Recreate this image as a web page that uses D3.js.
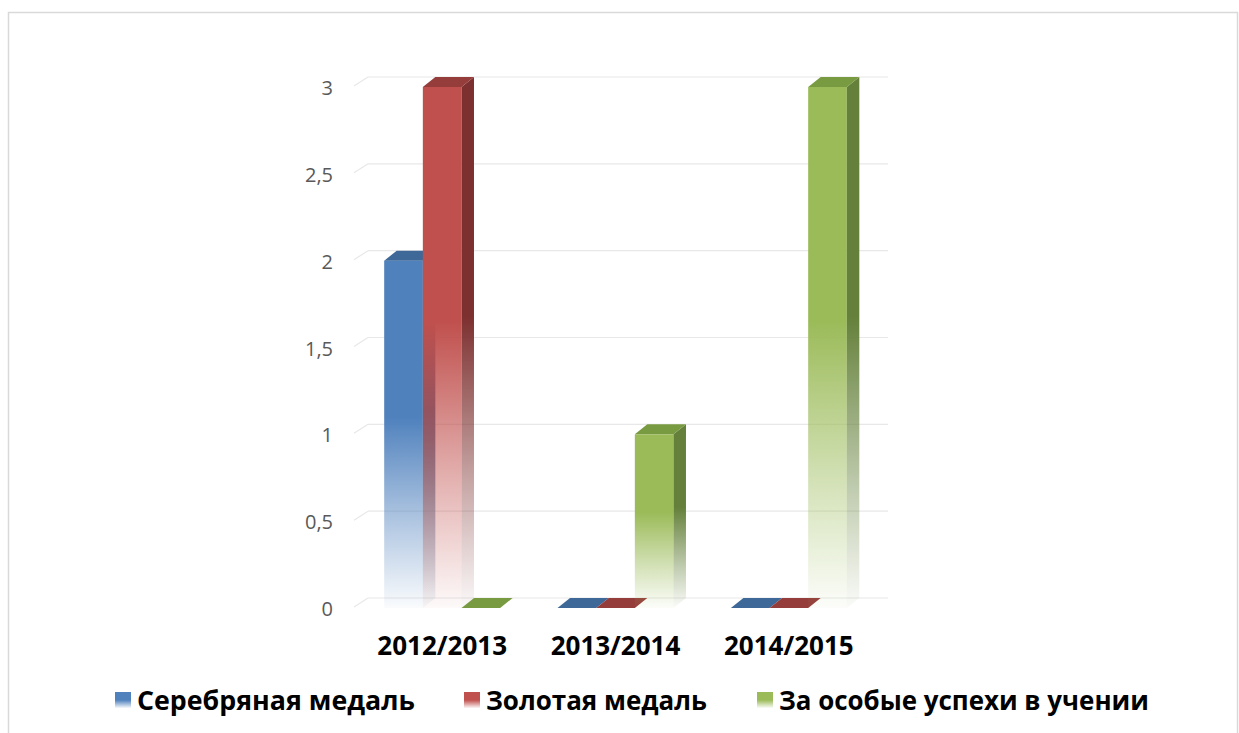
<!DOCTYPE html>
<html>
<head>
<meta charset="utf-8">
<script src="https://cdn.jsdelivr.net/npm/d3@7"></script>
<style>
  html, body { margin: 0; padding: 0; background: #ffffff; }
  svg { display: block; }
</style>
</head>
<body>
<svg id="chart" width="1239" height="733"></svg>
<script>
// ---- data ----
const categories = ["2012/2013", "2013/2014", "2014/2015"];
const seriesNames = ["Серебряная медаль", "Золотая медаль", "За особые успехи в учении"];
const silverValues = [2, 0, 0];
const goldValues = [3, 0, 0];
const specialValues = [0, 1, 3];
const yTickValues = [0, 0.5, 1, 1.5, 2, 2.5, 3];
const yTickLabels = ["0", "0,5", "1", "1,5", "2", "2,5", "3"];

// ---- styling ----
const frontColors = ["#4f81bd", "#c0504d", "#9bbb59"];
const topColors   = ["#3e6898", "#953d3b", "#789a41"];
const sideColors  = ["#365a85", "#7c302f", "#64803a"];
const FONT = "'Open Sans', 'Noto Sans', sans-serif";

const svg = d3.select("#chart");
const defs = svg.append("defs");

// chart border
svg.append("rect")
  .attr("x", 8.5).attr("y", 12.5)
  .attr("width", 1229).attr("height", 740)
  .attr("fill", "none").attr("stroke", "#d9d9d9").attr("stroke-width", 1.5);

// geometry (back wall)
const backLeft = 368, backRight = 888;
const DX = 12.5, DY = 10;       // depth offset of bar front relative to back
const WDX = 14, WDY = 9;        // side wall slant

const y = d3.scaleLinear().domain([0, 3]).range([598, 77]);
const x0 = d3.scaleBand().domain(categories).range([backLeft, backRight])
  .paddingInner(0.331).paddingOuter(0.1655);
const x1 = d3.scaleBand().domain(seriesNames).range([0, x0.bandwidth()]).padding(0);

// gradients
function makeGrad(id, color, stops) {
  const g = defs.append("linearGradient").attr("id", id)
    .attr("x1", 0).attr("y1", 0).attr("x2", 0).attr("y2", 1);
  stops.forEach(s => g.append("stop").attr("offset", s[0])
    .attr("stop-color", color).attr("stop-opacity", s[1]));
}
const barStops = [[0, 1], [0.45, 1], [0.75, 0.45], [1, 0.03]];
seriesNames.forEach((s, i) => {
  makeGrad("gf" + i, frontColors[i], barStops);
  makeGrad("gs" + i, sideColors[i], barStops);
  makeGrad("gl" + i, frontColors[i], [[0, 1], [0.5, 1], [1, 0.05]]);
});

// gridlines (back wall + side wall slant)
const grid = svg.append("g");
yTickValues.forEach(v => {
  grid.append("line")
    .attr("x1", backLeft).attr("x2", backRight)
    .attr("y1", y(v)).attr("y2", y(v))
    .attr("stroke", "#e8e8e8").attr("stroke-width", 1.2);
  grid.append("line")
    .attr("x1", backLeft - WDX).attr("y1", y(v) + WDY)
    .attr("x2", backLeft).attr("y2", y(v))
    .attr("stroke", "#e8e8e8").attr("stroke-width", 1.2);
});

// y tick labels
svg.append("g").selectAll("text").data(yTickValues).join("text")
  .attr("x", 333).attr("y", v => y(v) + 11)
  .attr("dy", "0.35em")
  .attr("text-anchor", "end")
  .attr("font-family", FONT).attr("font-size", 20)
  .attr("fill", "#595959")
  .text((v, i) => yTickLabels[i]);

// bars
const seriesValues = [silverValues, goldValues, specialValues];
const bars = [];
categories.forEach((c, ci) => {
  seriesNames.forEach((s, si) => {
    bars.push({ cat: c, series: s, si: si, value: seriesValues[si][ci] });
  });
});

const barG = svg.append("g");
bars.forEach(b => {
  const bx = x0(b.cat) + x1(b.series);
  const w = x1.bandwidth();
  const yt = y(b.value), yb = y(0);
  const g = barG.append("g");
  if (b.value > 0) {
    // front face
    g.append("rect")
      .attr("x", bx - DX).attr("y", yt + DY)
      .attr("width", w).attr("height", yb - yt)
      .attr("fill", `url(#gf${b.si})`);
    // side face
    g.append("polygon")
      .attr("points", [
        [bx - DX + w, yt + DY], [bx + w, yt], [bx + w, yb], [bx - DX + w, yb + DY]
      ].map(p => p.join(",")).join(" "))
      .attr("fill", `url(#gs${b.si})`);
  }
  // top face
  g.append("polygon")
    .attr("points", [
      [bx - DX, yt + DY], [bx, yt], [bx + w, yt], [bx - DX + w, yt + DY]
    ].map(p => p.join(",")).join(" "))
    .attr("fill", topColors[b.si]);
});

// x category labels
svg.append("g").selectAll("text").data(categories).join("text")
  .attr("x", c => x0(c) + x0.bandwidth() / 2 - DX)
  .attr("y", 655)
  .attr("text-anchor", "middle")
  .attr("font-family", FONT).attr("font-size", 26).attr("font-weight", "bold")
  .attr("fill", "#000")
  .text(c => c);

// legend
const legendTextX = [137, 486, 779];
const legendTextW = [278, 221, 370];
const leg = svg.append("g");
seriesNames.forEach((s, i) => {
  leg.append("rect")
    .attr("x", legendTextX[i] - 22).attr("y", 692)
    .attr("width", 16).attr("height", 16)
    .attr("fill", `url(#gl${i})`);
  const t = leg.append("text")
    .attr("x", legendTextX[i]).attr("y", 710)
    .attr("font-family", FONT).attr("font-size", 26).attr("font-weight", "bold")
    .attr("fill", "#000")
    .text(s);
  const len = t.node().getComputedTextLength();
  if (len > 0) t.attr("font-size", 26 * legendTextW[i] / len);
});
</script>
</body>
</html>
